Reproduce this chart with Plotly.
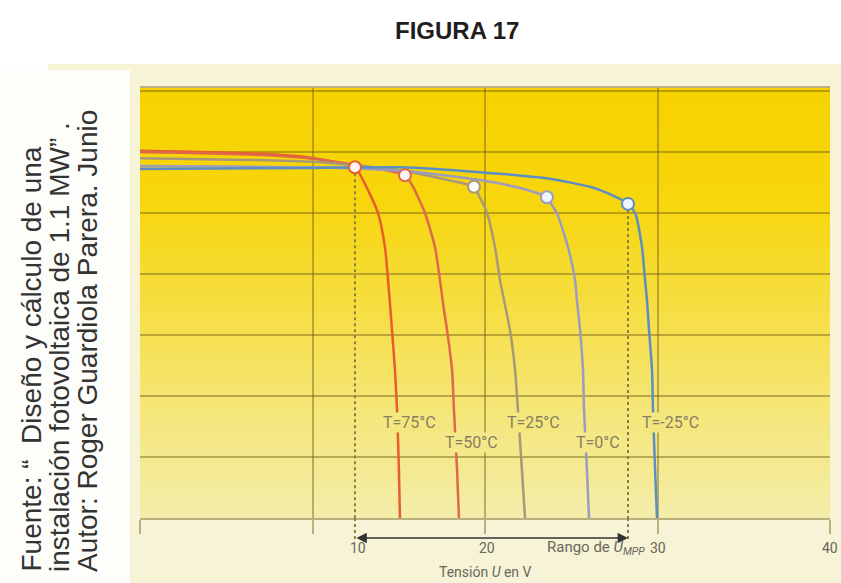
import plotly.graph_objects as go
import numpy as np

# ---------------- data ----------------
temp_labels = ["T=75°C", "T=50°C", "T=25°C", "T=0°C", "T=-25°C"]

v_t75 = [0, 7.13, 10.03, 12.46, 12.93, 13.80, 14.20, 14.38, 14.61, 14.78, 14.90, 15.01, 15.07]
i_t75 = [6.02, 5.97, 5.90, 5.75, 5.54, 5.00, 4.44, 3.90, 3.08, 2.43, 1.77, 0.79, 0]

v_t50 = [0, 7.13, 10.03, 12.46, 13.91, 15.36, 15.77, 16.52, 17.10, 17.39, 17.62, 17.80, 18.09, 18.20, 18.38, 18.49]
i_t50 = [6.00, 5.95, 5.89, 5.79, 5.72, 5.62, 5.46, 5.00, 4.44, 3.90, 3.41, 3.08, 2.43, 1.77, 0.79, 0]

v_t25 = [0, 10.03, 15.30, 17.39, 19.36, 19.71, 20.12, 20.58, 20.87, 21.04, 21.45, 21.74, 21.91, 22.14, 22.32]
i_t25 = [5.90, 5.84, 5.69, 5.57, 5.43, 5.25, 5.00, 4.44, 3.90, 3.66, 3.08, 2.43, 1.77, 0.79, 0]

v_t0 = [0, 10.03, 15.36, 19.71, 22.03, 23.59, 23.88, 24.17, 24.81, 25.22, 25.33, 25.51, 25.68, 25.74, 25.91, 26.03]
i_t0 = [5.77, 5.75, 5.69, 5.54, 5.41, 5.26, 5.13, 5.00, 4.44, 3.90, 3.57, 3.08, 2.43, 1.77, 0.79, 0]

v_tm25 = [0, 10.03, 15.07, 19.71, 23.59, 26.09, 27.07, 28.29, 28.70, 29.10, 29.28, 29.39, 29.51, 29.68, 29.74, 29.86, 29.97]
i_tm25 = [5.72, 5.74, 5.75, 5.67, 5.57, 5.43, 5.33, 5.15, 5.00, 4.44, 3.90, 3.57, 3.08, 2.43, 1.77, 0.79, 0]

mpp_v = [12.46, 15.36, 19.36, 23.59, 28.29]
mpp_i = [5.75, 5.62, 5.43, 5.26, 5.15]

x_grid_vals = [0, 10, 20, 30, 40]
y_grid_vals = [0, 1, 2, 3, 4, 5, 6, 7]
x_tick_text = ["10", "20", "30", "40"]

# ---------------- styling / layout ----------------
curve_colors = ["#e85d2c", "#e0684a", "#a8987a", "#9c9cc0", "#5b8fc4"]
marker_fill = ["#fff4f0", "#fff4f0", "#fdfbf5", "#eef6ff", "#eef6ff"]
x_tick_label_pos = [12.64, 20.1, 30.0, 40.0]
temp_label_pos = [(15.6, 1.57), (19.19, 1.23), (22.84, 1.57), (26.55, 1.23), (30.78, 1.57)]

W, H = 841, 583
L, R, T, B = 140, 11, 88, 65
PW, PH = W - L - R, H - T - B


def px(x):
    return (x - L) / PW


def py(y):
    return (H - B - y) / PH


grad_stops = [(88, (247, 210, 0)), (200, (247, 214, 12)), (300, (246, 221, 62)),
              (420, (245, 231, 125)), (518, (244, 237, 170))]


def grad_color(y):
    ys = [s[0] for s in grad_stops]
    c = [int(round(np.interp(y, ys, [s[1][k] for s in grad_stops]))) for k in range(3)]
    return "rgb(%d,%d,%d)" % tuple(c)


curves = [(v_t75, i_t75), (v_t50, i_t50), (v_t25, i_t25), (v_t0, i_t0), (v_tm25, i_tm25)]

fig = go.Figure()
for (v, i), col in zip(curves, curve_colors):
    fig.add_trace(go.Scatter(x=v, y=i, mode="lines",
                             line=dict(color=col, width=2.5, shape="spline", smoothing=0.6),
                             hoverinfo="skip", showlegend=False))

# dotted lines at the ends of the MPP range
for k in (0, 4):
    fig.add_trace(go.Scatter(x=[mpp_v[k], mpp_v[k]], y=[mpp_i[k], 0], mode="lines",
                             line=dict(color="#8a8040", width=2, dash="dot"),
                             hoverinfo="skip", showlegend=False))

fig.add_trace(go.Scatter(x=mpp_v, y=mpp_i, mode="markers",
                         marker=dict(size=12, color=marker_fill,
                                     line=dict(color=curve_colors, width=2)),
                         hoverinfo="skip", showlegend=False))

shapes = []
# cream page area and white text box
shapes.append(dict(type="rect", xref="paper", yref="paper", x0=px(48), x1=px(W), y0=py(H), y1=py(64),
                   fillcolor="#f6f3d6", line=dict(width=0), layer="below"))
shapes.append(dict(type="rect", xref="paper", yref="paper", x0=px(0), x1=px(130), y0=py(H), y1=py(70),
                   fillcolor="#fdfdfa", line=dict(width=0), layer="below"))
# yellow gradient in plot area
band = 5
for y0 in range(T, H - B, band):
    shapes.append(dict(type="rect", xref="paper", yref="paper", x0=0, x1=1,
                       y0=py(min(y0 + band + 1, H - B)), y1=py(y0),
                       fillcolor=grad_color(y0 + band / 2), line=dict(width=0), layer="below"))
# dotted lines continue below the axis down to the arrow
for k in (0, 4):
    shapes.append(dict(type="line", xref="x", yref="paper", x0=mpp_v[k], x1=mpp_v[k],
                       y0=0, y1=py(541), line=dict(color="#8a8040", width=2, dash="dot")))

annotations = []
lab_family = "Liberation Sans Narrow, Roboto, sans-serif"
tick_font = dict(family=lab_family, size=14, color="#6a675a")
for txt, xv in zip(x_tick_text, x_tick_label_pos):
    annotations.append(dict(x=xv, y=py(548), xref="x", yref="paper", text=txt, showarrow=False,
                            font=tick_font, xanchor="center", yanchor="middle"))
annotations.append(dict(x=29.4, y=py(548), xref="x", yref="paper",
                        text="Rango de <i>U</i><sub><i>MPP</i></sub>", showarrow=False,
                        font=dict(family=lab_family, size=15, color="#6a675a"),
                        xanchor="right", yanchor="middle"))
annotations.append(dict(x=px(485), y=py(572), xref="paper", yref="paper",
                        text="Tensión <i>U</i> en V", showarrow=False,
                        font=dict(family=lab_family, size=14, color="#6a675a"),
                        xanchor="center", yanchor="middle"))
# double arrow of the MPP range
annotations.append(dict(x=mpp_v[4], y=py(538), xref="x", yref="paper",
                        ax=mpp_v[0], ay=0, axref="x", ayref="pixel", text="",
                        showarrow=True, arrowhead=2, startarrowhead=2, arrowside="end+start",
                        arrowsize=1.3, startarrowsize=1.3, arrowwidth=1.6, arrowcolor="#333333",
                        standoff=0, startstandoff=0))
# temperature labels
for txt, (xv, yv) in zip(temp_labels, temp_label_pos):
    annotations.append(dict(x=xv, y=yv, xref="x", yref="y", text=txt, showarrow=False,
                            font=dict(family=lab_family, size=16, color="#857f62"),
                            bgcolor=grad_color(518 - yv * PH / 7.05), borderpad=0,
                            xanchor="center", yanchor="middle"))
# title
annotations.append(dict(x=px(457), y=py(30), xref="paper", yref="paper", text="<b>FIGURA 17</b>",
                        showarrow=False, font=dict(family="Liberation Sans, Arial, sans-serif", size=24, color="#1e1e1e"),
                        xanchor="center", yanchor="middle"))
# vertical source text
src_lines = ["Fuente: “  Diseño y cálculo de una",
             "instalación fotovoltaica de 1.1 MW” .",
             "Autor: Roger Guardiola Parera. Junio"]
src_x = [31, 59, 87]
for txt, xx in zip(src_lines, src_x):
    annotations.append(dict(x=px(xx), y=py(574), xref="paper", yref="paper", text=txt, textangle=-90,
                            showarrow=False, font=dict(family="Liberation Sans, Arial, sans-serif", size=28, color="#333333"),
                            xanchor="center", yanchor="bottom"))

grid_col = "rgba(110,95,20,0.45)"
fig.update_layout(
    width=W, height=H,
    margin=dict(l=L, r=R, t=T, b=B),
    paper_bgcolor="white", plot_bgcolor="rgba(0,0,0,0)",
    showlegend=False,
    shapes=shapes, annotations=annotations,
    xaxis=dict(range=[0, 40], tickvals=x_grid_vals, showticklabels=False, showgrid=True,
               gridcolor=grid_col, gridwidth=1.5, zeroline=False, showline=True, mirror=True,
               linecolor=grid_col, linewidth=1.5, ticks="outside", ticklen=14, tickcolor=grid_col,
               tickwidth=1.5, fixedrange=True),
    yaxis=dict(range=[0, 7.05], tickvals=y_grid_vals, showticklabels=False, showgrid=True,
               gridcolor=grid_col, gridwidth=1.5, zeroline=False, showline=False, fixedrange=True),
)

fig.write_html("out.html", config={"displayModeBar": False},
               post_script="document.body.style.margin='0';document.body.style.padding='0';")
